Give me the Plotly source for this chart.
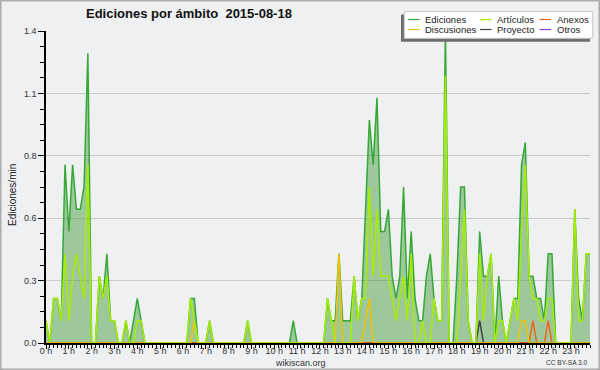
import numpy as np
import plotly.graph_objects as go

# 10-minute bins over the day (144 slots), values in edits/min
ediciones = [
    0.1, 0, 0.2, 0.2, 0.1, 0.8, 0.5, 0.8, 0.6, 0.6, 0.7, 1.3,
    0, 0, 0.3, 0.2, 0.4, 0.1, 0.1, 0, 0, 0.1, 0, 0.1,
    0.2, 0.1, 0, 0, 0, 0, 0, 0, 0, 0, 0, 0,
    0, 0, 0.2, 0.2, 0, 0, 0, 0.1, 0, 0, 0, 0,
    0, 0, 0, 0, 0, 0.1, 0, 0, 0, 0, 0, 0,
    0, 0, 0, 0, 0, 0.1, 0, 0, 0, 0, 0, 0,
    0, 0, 0.2, 0.1, 0.1, 0.4, 0.1, 0.1, 0.1, 0.3, 0.1, 0.2,
    0.6, 1.0, 0.8, 1.1, 0.5, 0.5, 0.6, 0.3, 0.2, 0.3, 0.7, 0.2,
    0.5, 0.2, 0.1, 0.1, 0.3, 0.4, 0.2, 0.1, 0.1, 1.4, 0, 0,
    0.3, 0.7, 0.7, 0.1, 0, 0, 0.5, 0.3, 0.3, 0.4, 0, 0.3,
    0.1, 0, 0.1, 0.2, 0.2, 0.8, 0.9, 0.3, 0.3, 0.2, 0.2, 0.1,
    0.4, 0.4, 0, 0, 0, 0, 0, 0.6, 0.2, 0.1, 0.4, 0.4,
]
articulos = [
    0.1, 0, 0.2, 0.2, 0.1, 0.4, 0.1, 0.3, 0.4, 0.3, 0.2, 0.8,
    0, 0, 0.3, 0.2, 0.3, 0.1, 0.1, 0, 0, 0.1, 0, 0,
    0.1, 0.1, 0, 0, 0, 0, 0, 0, 0, 0, 0, 0,
    0, 0, 0.2, 0.1, 0, 0, 0, 0.1, 0, 0, 0, 0,
    0, 0, 0, 0, 0, 0.1, 0, 0, 0, 0, 0, 0,
    0, 0, 0, 0, 0, 0, 0, 0, 0, 0, 0, 0,
    0, 0, 0.2, 0.1, 0, 0, 0, 0, 0, 0.3, 0.1, 0.2,
    0.2, 0.7, 0.3, 0.6, 0.3, 0.3, 0.3, 0.2, 0.1, 0.2, 0.3, 0.1,
    0.4, 0, 0, 0.1, 0, 0, 0.2, 0.1, 0.1, 1.2, 0, 0,
    0, 0.3, 0.6, 0.1, 0, 0, 0.4, 0.1, 0.3, 0.4, 0, 0.1,
    0.1, 0, 0.1, 0.2, 0.1, 0.5, 0.8, 0.3, 0.2, 0.2, 0.1, 0.1,
    0.2, 0.2, 0, 0, 0, 0, 0, 0.6, 0.1, 0.1, 0.4, 0.4,
]
anexos = [
    0, 0, 0, 0, 0, 0, 0, 0, 0, 0, 0, 0,
    0, 0, 0, 0, 0, 0, 0, 0, 0, 0, 0, 0,
    0, 0, 0, 0, 0, 0, 0, 0, 0, 0, 0, 0,
    0, 0, 0, 0, 0, 0, 0, 0, 0, 0, 0, 0,
    0, 0, 0, 0, 0, 0, 0, 0, 0, 0, 0, 0,
    0, 0, 0, 0, 0, 0, 0, 0, 0, 0, 0, 0,
    0, 0, 0, 0, 0, 0, 0, 0, 0, 0, 0, 0,
    0, 0, 0, 0, 0, 0, 0, 0, 0, 0, 0, 0,
    0, 0, 0, 0, 0, 0, 0, 0, 0, 0, 0, 0,
    0, 0, 0, 0, 0, 0, 0, 0, 0, 0, 0, 0,
    0, 0, 0, 0, 0, 0, 0, 0, 0.1, 0, 0, 0,
    0.1, 0, 0, 0, 0, 0, 0, 0, 0, 0, 0, 0,
]
discusiones = [
    0, 0, 0, 0, 0, 0, 0, 0, 0, 0, 0, 0,
    0, 0, 0, 0, 0, 0, 0, 0, 0, 0, 0, 0,
    0, 0, 0, 0, 0, 0, 0, 0, 0, 0, 0, 0,
    0, 0, 0, 0.1, 0, 0, 0, 0, 0, 0, 0, 0,
    0, 0, 0, 0, 0, 0, 0, 0, 0, 0, 0, 0,
    0, 0, 0, 0, 0, 0, 0, 0, 0, 0, 0, 0,
    0, 0, 0, 0, 0, 0.4, 0, 0, 0, 0, 0, 0,
    0.1, 0.2, 0, 0, 0, 0, 0, 0, 0, 0, 0, 0,
    0, 0, 0, 0, 0, 0, 0, 0, 0, 0, 0, 0,
    0, 0, 0, 0, 0, 0, 0, 0, 0, 0, 0, 0,
    0, 0, 0, 0, 0, 0.1, 0.1, 0, 0, 0, 0, 0,
    0, 0, 0, 0, 0, 0, 0, 0, 0, 0, 0, 0,
]
proyecto = [
    0, 0, 0, 0, 0, 0, 0, 0, 0, 0, 0, 0,
    0, 0, 0, 0, 0, 0, 0, 0, 0, 0, 0, 0,
    0, 0, 0, 0, 0, 0, 0, 0, 0, 0, 0, 0,
    0, 0, 0, 0, 0, 0, 0, 0, 0, 0, 0, 0,
    0, 0, 0, 0, 0, 0, 0, 0, 0, 0, 0, 0,
    0, 0, 0, 0, 0, 0, 0, 0, 0, 0, 0, 0,
    0, 0, 0, 0, 0, 0, 0, 0, 0, 0, 0, 0,
    0, 0, 0, 0, 0, 0, 0, 0, 0, 0, 0, 0,
    0, 0, 0, 0, 0, 0, 0, 0, 0, 0, 0, 0,
    0, 0, 0, 0, 0, 0, 0.1, 0, 0, 0, 0, 0,
    0, 0, 0, 0, 0, 0, 0, 0, 0, 0, 0, 0,
    0, 0, 0, 0, 0, 0, 0, 0, 0, 0, 0, 0,
]
otros = [0] * 144

hour_ticks = list(range(24))
hour_labels = ["0 h", "1 h", "2 h", "3 h", "4 h", "5 h", "6 h", "7 h", "8 h", "9 h",
               "10 h", "11 h", "12 h", "13 h", "14 h", "15 h", "16 h", "17 h", "18 h",
               "19 h", "20 h", "21 h", "22 h", "23 h"]
y_ticks = [0, 0.28, 0.56, 0.84, 1.12, 1.4]
y_labels = ["0.0", "0.3", "0.6", "0.8", "1.1", "1.4"]

series_names = ["Ediciones", "Artículos", "Anexos", "Discusiones", "Proyecto", "Otros"]
series_colors = ["#36a836", "#a6ee00", "#f0641e", "#f2c200", "#444444", "#8844ee"]

hours = np.arange(144) / 6.0

W, H = 600, 370
L, R, T, B = 46, 10, 31, 27
PW, PH = W - L - R, H - T - B


def px(x):
    return (x - L) / PW


def py(y):
    return (H - B - y) / PH


FONT = "Liberation Sans, Arial, sans-serif"

fig = go.Figure()
fig.add_trace(go.Scatter(x=hours, y=ediciones, mode="lines", name=series_names[0],
                         line=dict(color=series_colors[0], width=1.5),
                         fill="tozeroy", fillcolor="rgba(40,143,35,0.41)", cliponaxis=False))
order = [5, 4, 2, 3, 1]  # draw otros, proyecto, anexos, discusiones, articulos (top)
all_series = [ediciones, articulos, anexos, discusiones, proyecto, otros]
for k in order:
    fig.add_trace(go.Scatter(x=hours, y=all_series[k], mode="lines", name=series_names[k],
                             line=dict(color=series_colors[k], width=1.5)))

fig.update_layout(
    width=W, height=H,
    margin=dict(l=L, r=R, t=T, b=B, pad=0, autoexpand=False),
    paper_bgcolor="#eff0f2", plot_bgcolor="#eff0f2",
    showlegend=False,
    font=dict(family=FONT, size=9, color="#333"),
)
fig.update_xaxes(
    range=[0, 143 / 6], tickmode="array", tickvals=hour_ticks, ticktext=hour_labels,
    ticks="outside", ticklen=4, tickwidth=1, tickcolor="black", automargin=False,
    ticklabelstandoff=-6,
    showline=True, linecolor="black", linewidth=2, showgrid=False, zeroline=False,
    tickfont=dict(size=9, color="#333"),
    minor=dict(tickmode="linear", tick0=0, dtick=1 / 6, ticks="outside", ticklen=3,
               tickcolor="black", tickwidth=1, showgrid=False),
)
fig.update_yaxes(
    range=[0, 1.4], tickmode="array", tickvals=y_ticks, ticktext=y_labels,
    ticks="outside", ticklen=6, tickwidth=1, tickcolor="black", automargin=False,
    showline=True, linecolor="black", linewidth=1.5,
    showgrid=True, gridcolor="#c9cacc", gridwidth=1, zeroline=False,
    tickfont=dict(size=9, color="#333"),
    minor=dict(tickmode="linear", tick0=0, dtick=0.07, ticks="outside", ticklen=4,
               tickcolor="black", tickwidth=1, showgrid=False),
)

shapes = []
# outer frame
shapes.append(dict(type="rect", xref="paper", yref="paper",
                   x0=px(0.5), x1=px(W - 0.5), y0=py(H - 0.5), y1=py(0.5),
                   line=dict(color="#ababab", width=2), fillcolor="rgba(0,0,0,0)", layer="above"))
# legend shadow and box
shapes.append(dict(type="rect", xref="paper", yref="paper",
                   x0=px(401), x1=px(590), y0=py(41.7), y1=py(14.5),
                   line=dict(width=0), fillcolor="#6e6e6e", layer="above"))
shapes.append(dict(type="rect", xref="paper", yref="paper",
                   x0=px(404.3), x1=px(592.7), y0=py(38.3), y1=py(11.7),
                   line=dict(color="#c8c8c8", width=1), fillcolor="white", layer="above"))

annotations = []
leg_pos = [(408, 19.5), (480, 19.5), (539.5, 19.5), (408, 29.5), (480, 29.5), (539.5, 29.5)]
leg_order = [0, 1, 2, 3, 4, 5]  # Ediciones, Artículos, Anexos / Discusiones, Proyecto, Otros
for (lx, ly), k in zip(leg_pos, leg_order):
    shapes.append(dict(type="line", xref="paper", yref="paper",
                       x0=px(lx), x1=px(lx + 11.5), y0=py(ly), y1=py(ly),
                       line=dict(color=series_colors[k], width=1.2), layer="above"))
    annotations.append(dict(x=px(lx + 15), y=py(ly), xref="paper", yref="paper",
                            text=series_names[k], showarrow=False, xanchor="left",
                            yanchor="middle", font=dict(family=FONT, size=9.5, color="#222")))

annotations.append(dict(x=px(188.5), y=py(14), xref="paper", yref="paper",
                        text="Ediciones por ámbito \u00a02015-08-18", showarrow=False,
                        xanchor="center", yanchor="middle",
                        font=dict(family=FONT, size=13, color="#111", weight="bold")))
annotations.append(dict(x=px(12), y=py(195), xref="paper", yref="paper",
                        text="Ediciones/min", showarrow=False, textangle=-90,
                        xanchor="center", yanchor="middle",
                        font=dict(family=FONT, size=10, color="#222")))
annotations.append(dict(x=px(300.5), y=py(362.5), xref="paper", yref="paper",
                        text="wikiscan.org", showarrow=False, xanchor="center", yanchor="middle",
                        font=dict(family=FONT, size=9, color="#333")))
annotations.append(dict(x=px(590), y=py(362.5), xref="paper", yref="paper",
                        text="CC BY-SA 3.0", showarrow=False, xanchor="right", yanchor="middle",
                        font=dict(family=FONT, size=6.6, color="#333")))

fig.update_layout(shapes=shapes, annotations=annotations)
fig.write_html("out.html", config={"displayModeBar": False},
               post_script="document.body.style.margin='0';document.body.style.overflow='hidden';")
